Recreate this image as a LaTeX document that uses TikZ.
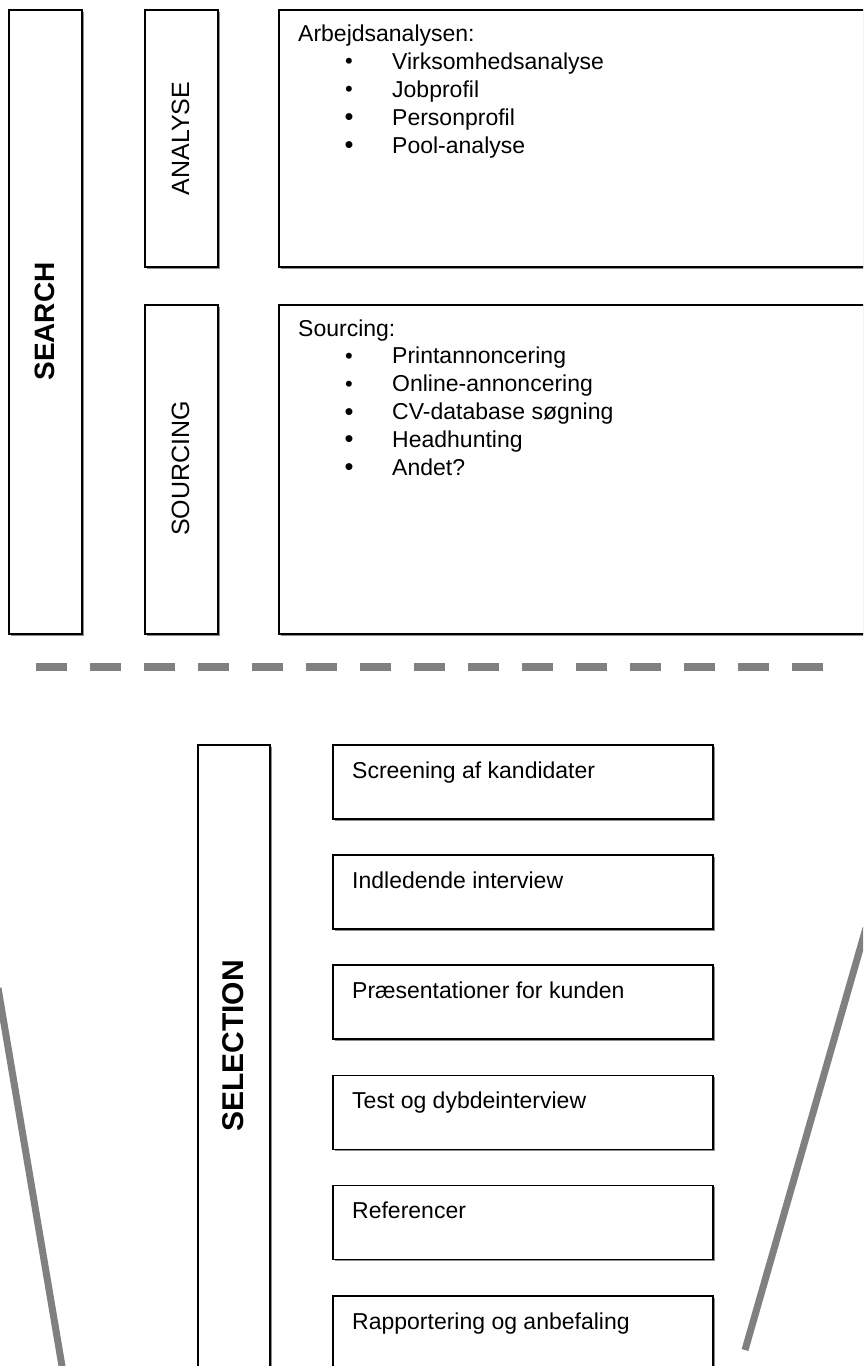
\documentclass[tikz,border=0pt]{standalone}
\usepackage{fontspec}
\setmainfont{Liberation Sans}
\usetikzlibrary{shadows}
\begin{document}
\begin{tikzpicture}[x=1pt,y=-1pt,
  frame/.style={draw=black, line width=1.6pt, fill=white, inner sep=0pt, anchor=north west,
    drop shadow={shadow xshift=1.8pt, shadow yshift=-1.8pt, fill=black!45, opacity=1}},
  bodytext/.style={font=\fontsize{23}{27}\selectfont, inner sep=0pt, anchor=base west},
  bullet/.style={font=\fontsize{#1}{27}\selectfont, inner sep=0pt, anchor=base},
  bullet/.default=23,
  sidelabel/.style={font=\fontsize{25}{30}\selectfont, inner sep=0pt, rotate=90},
  mainlabel/.style={font=\fontsize{28}{32}\bfseries, inner sep=0pt, rotate=90},
  grayline/.style={draw=black!50, line width=7pt},
  dashline/.style={draw=black!50, line width=8pt, dash pattern=on 31pt off 23pt}
]
\path[use as bounding box] (0,0) rectangle (863,1366);
\clip (0,0) rectangle (863,1366);
\fill[white] (0,0) rectangle (863,1366);

% ---- SEARCH part ----
\node[frame, minimum width=73pt, minimum height=624pt] (search) at (8,9) {};
\node[mainlabel] (searchlbl) at (44.5,321.5) {SEARCH};

\node[frame, minimum width=73pt, minimum height=257pt] (analyse) at (144,9) {};
\node[sidelabel] (analyselbl) at (180.5,138.5) {ANALYSE};

\node[frame, minimum width=73pt, minimum height=329pt] (sourcing) at (144,304) {};
\node[sidelabel] (sourcinglbl) at (180.5,468.5) {SOURCING};

\node[frame, minimum width=620pt, minimum height=257pt] (analysebox) at (278,9) {};
\node[bodytext] (a0) at (298,41) {Arbejdsanalysen:};
\foreach \t/\s [count=\i] in {Virksomhedsanalyse/22, Jobprofil/22, Personprofil/25.5, Pool-analyse/25.5} {
  \node[bullet=\s] (ab\i) at (349,{41+28*\i+(\s-23)*0.3}) {•};
  \node[bodytext] (a\i) at (392,{41+28*\i}) {\t};
}

\node[frame, minimum width=620pt, minimum height=329pt] (sourcingbox) at (278,304) {};
\node[bodytext] (s0) at (298,336) {Sourcing:};
\foreach \t/\s [count=\i] in {Printannoncering/22, Online-annoncering/22, CV-database søgning/25.5, Headhunting/25.5, Andet?/25.5} {
  \node[bullet=\s] (sb\i) at (349,{336+27.8*\i+(\s-23)*0.3}) {•};
  \node[bodytext] (s\i) at (392,{336+27.8*\i}) {\t};
}

% ---- dashed separator ----
\coordinate (dl) at (36,667);
\coordinate (dr) at (823,667);
\draw[dashline] (dl) -- (dr);

% ---- funnel lines ----
\coordinate (fl1) at (-2,988);
\coordinate (fl2) at (63,1372);
\coordinate (fr1) at (866,928);
\coordinate (fr2) at (745,1350);
\draw[grayline] (fl1) -- (fl2);
\draw[grayline] (fr1) -- (fr2);

% ---- SELECTION part ----
\node[frame, minimum width=72pt, minimum height=660pt] (selection) at (197,744) {};
\node[mainlabel, font=\fontsize{30}{34}\bfseries] (selectionlbl) at (233,1046) {SELECTION};

\foreach \t [count=\i from 0] in {Screening af kandidater, Indledende interview, Præsentationer for kunden, Test og dybdeinterview, Referencer, Rapportering og anbefaling} {
  \node[frame, minimum width=380pt, minimum height=74pt] (step\i) at (332,{744+110.2*\i}) {};
  \node[bodytext] (steptxt\i) at (352,{778+110.2*\i}) {\t};
}
\end{tikzpicture}
\end{document}
